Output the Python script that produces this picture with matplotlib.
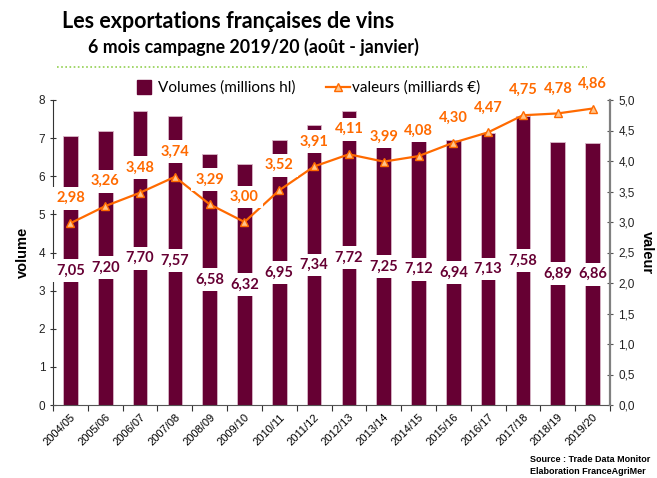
import matplotlib
matplotlib.use("Agg")
import matplotlib.pyplot as plt
from matplotlib.lines import Line2D
from matplotlib.ticker import FuncFormatter, MultipleLocator

# ---- data ------------------------------------------------------------------ #
campagnes = ["2004/05", "2005/06", "2006/07", "2007/08", "2008/09", "2009/10",
             "2010/11", "2011/12", "2012/13", "2013/14", "2014/15", "2015/16",
             "2016/17", "2017/18", "2018/19", "2019/20"]
volumes = [7.05, 7.20, 7.70, 7.57, 6.58, 6.32, 6.95, 7.34, 7.72, 7.25, 7.12,
           6.94, 7.13, 7.58, 6.89, 6.86]
valeurs = [2.98, 3.26, 3.48, 3.74, 3.29, 3.00, 3.52, 3.91, 4.11, 3.99, 4.08,
           4.30, 4.47, 4.75, 4.78, 4.86]

MAROON = "#660033"
ORANGE = "#FF6A00"
LABEL_FONT = "Lato"
TICK_FONT = "Liberation Sans"


def fr(v, nd):
    return f"{v:.{nd}f}".replace(".", ",")


fig = plt.figure(figsize=(6.57, 4.78), dpi=100)
ax = fig.add_axes([53 / 657, 73 / 478, 557 / 657, 305 / 478])
ax2 = ax.twinx()

x = list(range(len(campagnes)))

# ---- bars (left axis) ------------------------------------------------------ #
ax.bar(x, volumes, width=0.42, color=MAROON, edgecolor="#d9b8c8",
       linewidth=0.6, zorder=2)
for xi, v in zip(x, volumes):
    ax.text(xi, v / 2, fr(v, 2), ha="center", va="center", fontsize=10.5,
            fontweight="bold", color=MAROON, family=LABEL_FONT, zorder=5,
            bbox=dict(boxstyle="square,pad=0.3", fc="white", ec="none"))

ax.set_xlim(-0.5, len(campagnes) - 0.5)
ax.set_ylim(0, 8)
ax.yaxis.set_major_locator(MultipleLocator(1))
ax.set_xticks([i - 0.5 for i in range(len(campagnes) + 1)], minor=False)
ax.set_xticklabels([])
ax.set_xticks(x, minor=True)
ax.set_xticklabels(campagnes, minor=True, rotation=45, ha="right",
                   rotation_mode="anchor", fontsize=8, family=TICK_FONT)
ax.tick_params(axis="x", which="minor", length=0, pad=5)
ax.tick_params(axis="x", which="major", length=4, direction="out",
               color="#333333")
ax.tick_params(axis="y", length=4, direction="inout", labelsize=8.5,
               color="#333333", labelcolor="#222222")
for lbl in ax.get_yticklabels():
    lbl.set_family(TICK_FONT)
ax.set_ylabel("volume", fontsize=10.5, fontweight="bold", family=TICK_FONT,
              labelpad=6)

# ---- line (right axis) ----------------------------------------------------- #
ax2.plot(x, valeurs, color=ORANGE, lw=1.6, marker="^", markersize=6,
         markerfacecolor="#FFC48A", markeredgecolor=ORANGE,
         markeredgewidth=1.0, zorder=3)
for xi, v in zip(x, valeurs):
    ax2.annotate(fr(v, 2), (xi, v), xytext=(0, 18), textcoords="offset points",
                 ha="center", va="center", fontsize=10.5, fontweight="bold",
                 color=ORANGE, family=LABEL_FONT, zorder=6,
                 bbox=dict(boxstyle="square,pad=0.3", fc="white", ec="none"))

ax2.set_ylim(0, 5)
ax2.yaxis.set_major_locator(MultipleLocator(0.5))
ax2.yaxis.set_major_formatter(FuncFormatter(lambda v, _: fr(v, 1)))
ax2.tick_params(axis="y", length=5, direction="inout", labelsize=8.5,
                color="#555555", labelcolor="#222222")
for lbl in ax2.get_yticklabels():
    lbl.set_family(TICK_FONT)
ax2.set_ylabel("valeur", fontsize=10.5, fontweight="bold", family=TICK_FONT,
               rotation=-90, labelpad=14)

for a in (ax, ax2):
    a.spines["top"].set_visible(False)
ax.spines["right"].set_visible(False)
ax2.spines["left"].set_visible(False)
ax2.spines["bottom"].set_visible(False)
ax2.spines["right"].set_color("#808080")
ax2.spines["right"].set_linewidth(1.6)
ax.spines["left"].set_color("#333333")
ax.spines["bottom"].set_color("#555555")

# ---- titles, legend, footer ------------------------------------------------ #
fig.text(62 / 657, 1 - 21 / 478, "Les exportations françaises de vins",
         fontsize=15.5, fontweight="bold", family=LABEL_FONT, va="center")
fig.text(88 / 657, 1 - 47 / 478, "6 mois campagne 2019/20 (août - janvier)",
         fontsize=12.8, fontweight="bold", family=LABEL_FONT, va="center")
fig.add_artist(Line2D([57 / 657, 587 / 657], [1 - 67 / 478, 1 - 67 / 478],
                      transform=fig.transFigure, color="#92D050", lw=1.2,
                      ls=(0, (1, 1.5))))

handles = [
    Line2D([], [], ls="none", marker="s", markersize=10, color=MAROON),
    Line2D([], [], color=ORANGE, lw=1.6, marker="^", markersize=6,
           markerfacecolor="#FFC48A", markeredgecolor=ORANGE),
]
fig.legend(handles, ["Volumes (millions hl)", "valeurs (milliards €)"],
           loc="center", bbox_to_anchor=(306 / 657, 1 - 88 / 478), ncol=2,
           frameon=False, prop={"family": LABEL_FONT, "size": 11},
           handlelength=1.6, handletextpad=0.1, columnspacing=2.0)

fig.text(530 / 657, 1 - 460 / 478, "Source : Trade Data Monitor",
         fontsize=6.5, fontweight="bold", family=TICK_FONT, ha="left",
         va="center")
fig.text(530 / 657, 1 - 472 / 478, "Elaboration FranceAgriMer",
         fontsize=6.5, fontweight="bold", family=TICK_FONT, ha="left",
         va="center")

fig.savefig("out.png", dpi=100)
